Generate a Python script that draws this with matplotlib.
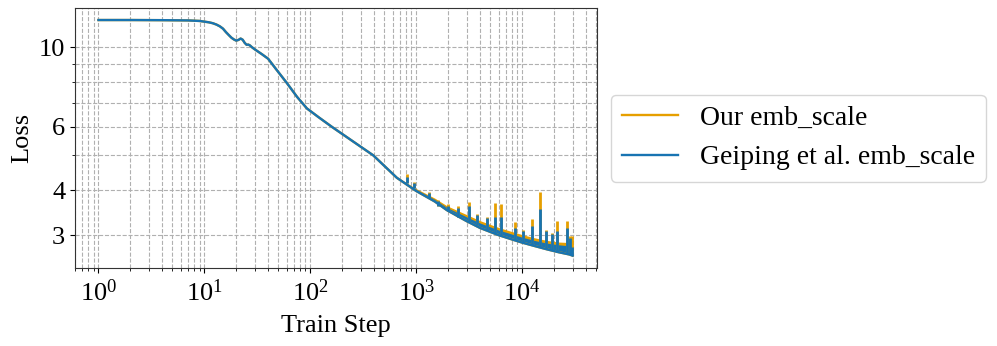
import numpy as np
import matplotlib
matplotlib.use("Agg")
from matplotlib import pyplot as plt
from matplotlib.lines import Line2D
from matplotlib.ticker import ScalarFormatter, NullFormatter

plt.rcParams['font.family'] = 'serif'
plt.rcParams['font.serif'] = ['Liberation Serif', 'DejaVu Serif']
plt.rcParams['mathtext.fontset'] = 'custom'
plt.rcParams['mathtext.rm'] = 'Liberation Serif'
plt.rcParams['mathtext.it'] = 'Liberation Serif:italic'
plt.rcParams['mathtext.default'] = 'regular'

# main loss curve (shared by both runs)
steps = [1, 2, 4, 7, 9, 11, 12, 13, 14, 15, 16, 17, 18, 19, 20, 21, 22, 23,
         24, 25, 26, 27, 28, 30, 35, 40, 48, 60, 75, 93, 120, 160, 250, 393,
         657, 1000, 1500, 1950, 3000, 4020, 6000, 8280, 10000, 13000, 17100,
         22000, 28000, 30000]
loss = [11.89, 11.89, 11.88, 11.86, 11.82, 11.72, 11.65, 11.55, 11.42, 11.25,
        11.0, 10.80, 10.62, 10.50, 10.42, 10.47, 10.56, 10.48, 10.28, 10.15,
        10.16, 10.10, 10.0, 9.85, 9.55, 9.28, 8.65, 7.95, 7.27, 6.75, 6.38,
        6.0, 5.48, 5.0, 4.33, 3.98, 3.72, 3.52, 3.28, 3.14, 3.0, 2.91, 2.86,
        2.80, 2.74, 2.69, 2.65, 2.63]

# noisy tail band (low edge and upper edge per run)
band_steps = [700, 1000, 1500, 1950, 3000, 4020, 6000, 8280, 10000, 13000,
              17100, 22000, 28000, 30000]
band_low = [4.28, 3.98, 3.72, 3.52, 3.28, 3.14, 3.0, 2.91, 2.86, 2.80, 2.74,
            2.69, 2.65, 2.63]
band_ours = [4.30, 4.04, 3.80, 3.62, 3.42, 3.29, 3.15, 3.06, 3.01, 2.95, 2.90,
             2.87, 2.86, 2.84]
band_geiping = [4.29, 4.02, 3.77, 3.58, 3.37, 3.24, 3.10, 3.01, 2.96, 2.90,
                2.85, 2.82, 2.80, 2.78]

# loss spikes in the tail
spike_steps = [828, 944, 1308, 1622, 2018, 2510, 3120, 3740, 4650, 5560, 6340,
               8600, 10240, 12300, 14800, 16800, 19000, 21200, 26400, 28400,
               29800]
spike_base = [4.2, 4.05, 3.8, 3.62, 3.5, 3.36, 3.27, 3.2, 3.1, 3.04, 3.0,
              2.9, 2.85, 2.82, 2.78, 2.74, 2.72, 2.70, 2.66, 2.65, 2.64]
spike_ours = [4.43, 4.22, 3.96, 3.75, 3.65, 3.61, 3.72, 3.44, 3.37, 3.68,
              3.66, 3.26, 3.10, 3.32, 3.96, 3.10, 3.04, 3.28, 3.28, 2.98, 2.98]
spike_geiping = [4.36, 4.20, 3.92, 3.73, 3.62, 3.56, 3.61, 3.42, 3.35, 3.37,
                 3.37, 3.14, 3.08, 3.17, 3.54, 3.08, 3.02, 3.07, 3.14, 2.94,
                 2.78]

y_ticks = [3, 4, 6, 10]

c_ours = '#E69F00'
c_geiping = '#1874B2'

fig = plt.figure(figsize=(9.97, 3.46), dpi=100)
ax = fig.add_axes([0.0752, 0.2254, 0.5236, 0.7514])

for col, band, spikes in [(c_ours, band_ours, spike_ours),
                          (c_geiping, band_geiping, spike_geiping)]:
    ax.plot(steps, loss, color=col, lw=1.7)
    ax.fill_between(band_steps, band_low, band, color=col, lw=0)
    ax.vlines(spike_steps, spike_base, spikes, color=col, lw=2.0)

ax.set_xscale('log')
ax.set_yscale('log')
ax.set_xlim(0.6, 51000)
ax.set_ylim(2.43, 12.84)
ax.set_yticks(y_ticks)
ax.yaxis.set_major_formatter(ScalarFormatter())
ax.yaxis.set_minor_formatter(NullFormatter())

ax.grid(True, which='both', ls='--', color='#b0b0b0', lw=0.8)
ax.set_axisbelow(True)
ax.tick_params(labelsize=19)
ax.tick_params(axis='x', pad=5)
for s in ax.spines.values():
    s.set_color('#333333')

ax.set_xlabel('Train Step', fontsize=19, labelpad=6)
ax.set_ylabel('Loss', fontsize=19)

handles = [Line2D([], [], color=c_ours, lw=1.7),
           Line2D([], [], color=c_geiping, lw=1.7)]
ax.legend(handles, ['Our emb_scale', 'Geiping et al. emb_scale'],
          loc='center left', bbox_to_anchor=(1.0, 0.5), fontsize=20)

fig.savefig('out.png', dpi=100)
